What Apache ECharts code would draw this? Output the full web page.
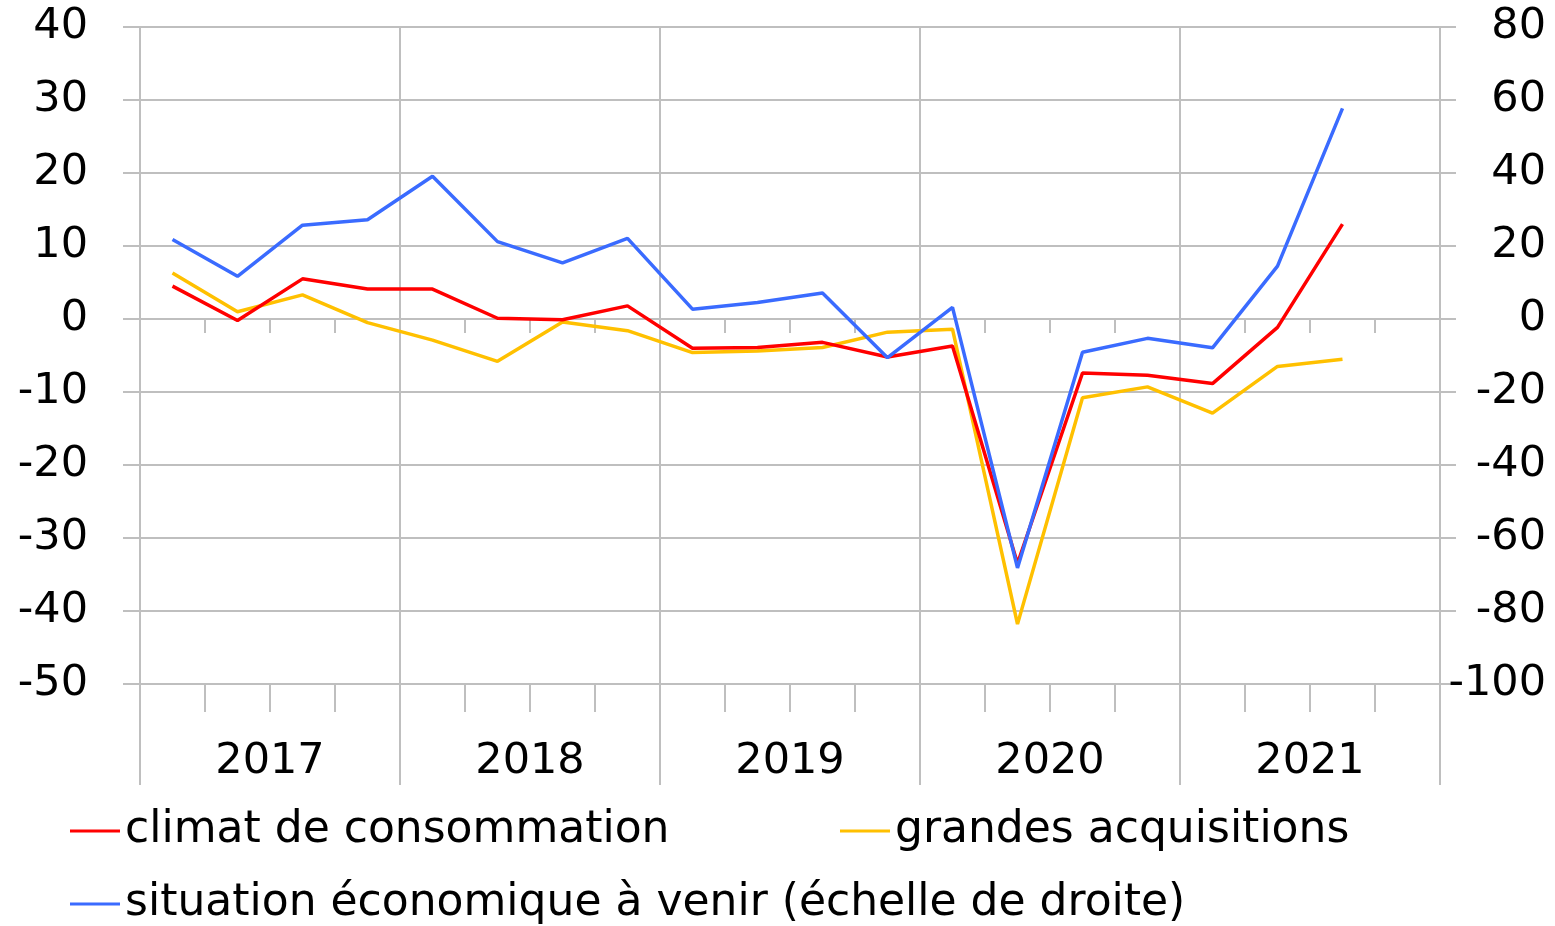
<!DOCTYPE html>
<html>
<head>
<meta charset="utf-8">
<script src="https://cdn.jsdelivr.net/npm/echarts@6/dist/echarts.min.js"></script>
<style>html,body{margin:0;padding:0;background:#fff;}#c{width:1555px;height:926px;}</style>
</head>
<body>
<div id="c"></div>
<script>
const quarters = ['2017T1','2017T2','2017T3','2017T4','2018T1','2018T2','2018T3','2018T4','2019T1','2019T2','2019T3','2019T4','2020T1','2020T2','2020T3','2020T4','2021T1','2021T2','2021T3','2021T4'];
const years = ['2017','2018','2019','2020','2021'];
const climat = [4.5,-0.2,5.5,4.1,4.1,0.1,-0.1,1.8,-4.0,-3.9,-3.2,-5.2,-3.7,-33.5,-7.4,-7.7,-8.85,-1.15,13.0];
const grandes = [6.3,1.0,3.3,-0.5,-2.9,-5.8,-0.4,-1.6,-4.6,-4.4,-3.9,-1.8,-1.4,-41.8,-10.8,-9.3,-12.9,-6.5,-5.5];
const situation = [21.8,11.7,25.7,27.2,39.1,21.2,15.4,22.1,2.7,4.5,7.1,-10.6,3.2,-68.2,-9.1,-5.3,-7.9,14.5,57.7];
const names = ['climat de consommation','grandes acquisitions','situation économique à venir (échelle de droite)'];

const FONT = 'DejaVu Sans';
const GRID = '#bfbfbf';
const chart = echarts.init(document.getElementById('c'), null, {renderer:'canvas'});
const legendBase = {orient:'horizontal', padding:0, itemWidth:50, itemHeight:3, icon:'rect',
  textStyle:{fontFamily:FONT, fontSize:44, color:'#000', lineHeight:50}};
chart.setOption({
  animation:false,
  backgroundColor:'#fff',
  grid:{left:140, right:115, top:27, bottom:242},
  legend:[
    Object.assign({data:[names[0]], left:70, top:806}, legendBase),
    Object.assign({data:[names[1]], left:840, top:806}, legendBase),
    Object.assign({data:[names[2]], left:70, top:879}, legendBase)
  ],
  xAxis:[
    {type:'category', data:quarters, boundaryGap:true, position:'bottom',
     axisLine:{show:true, onZero:true, lineStyle:{color:GRID, width:2}},
     axisTick:{show:true, length:14, interval:0, lineStyle:{color:GRID, width:2}},
     axisLabel:{show:false}, splitLine:{show:false}},
    {type:'category', data:quarters, boundaryGap:true, position:'bottom',
     axisLine:{show:false, onZero:false},
     axisTick:{show:true, length:28, interval:0, lineStyle:{color:GRID, width:2}},
     axisLabel:{show:false}, splitLine:{show:false}},
    {type:'category', data:years, boundaryGap:true, position:'bottom',
     axisLine:{show:true, onZero:false, lineStyle:{color:GRID, width:2}},
     axisTick:{show:true, length:101, interval:0, lineStyle:{color:GRID, width:2}},
     axisLabel:{show:true, interval:0, margin:56, fontFamily:FONT, fontSize:43, color:'#000'},
     splitLine:{show:true, interval:0, lineStyle:{color:GRID, width:2}}}
  ],
  yAxis:[
    {type:'value', min:-50, max:40, interval:10, position:'left',
     axisLine:{show:false}, axisTick:{show:true, length:17, lineStyle:{color:GRID, width:2}},
     axisLabel:{margin:52, fontFamily:FONT, fontSize:43, color:'#000'},
     splitLine:{show:true, lineStyle:{color:GRID, width:2}}},
    {type:'value', min:-100, max:80, interval:20, position:'right',
     axisLine:{show:false}, axisTick:{show:true, length:16, lineStyle:{color:GRID, width:2}},
     axisLabel:{margin:106, align:'right', fontFamily:FONT, fontSize:43, color:'#000'},
     splitLine:{show:false}}
  ],
  series:[
    {name:names[0], type:'line', data:climat, xAxisIndex:0, yAxisIndex:0, symbol:'none', color:'#ff0000', lineStyle:{width:3.5, color:'#ff0000'}, z:3},
    {name:names[1], type:'line', data:grandes, xAxisIndex:0, yAxisIndex:0, symbol:'none', color:'#ffc000', lineStyle:{width:3.5, color:'#ffc000'}, z:2},
    {name:names[2], type:'line', data:situation, xAxisIndex:0, yAxisIndex:1, symbol:'none', color:'#3a6bff', lineStyle:{width:3.5, color:'#3a6bff'}, z:4}
  ]
});
</script>
</body>
</html>
